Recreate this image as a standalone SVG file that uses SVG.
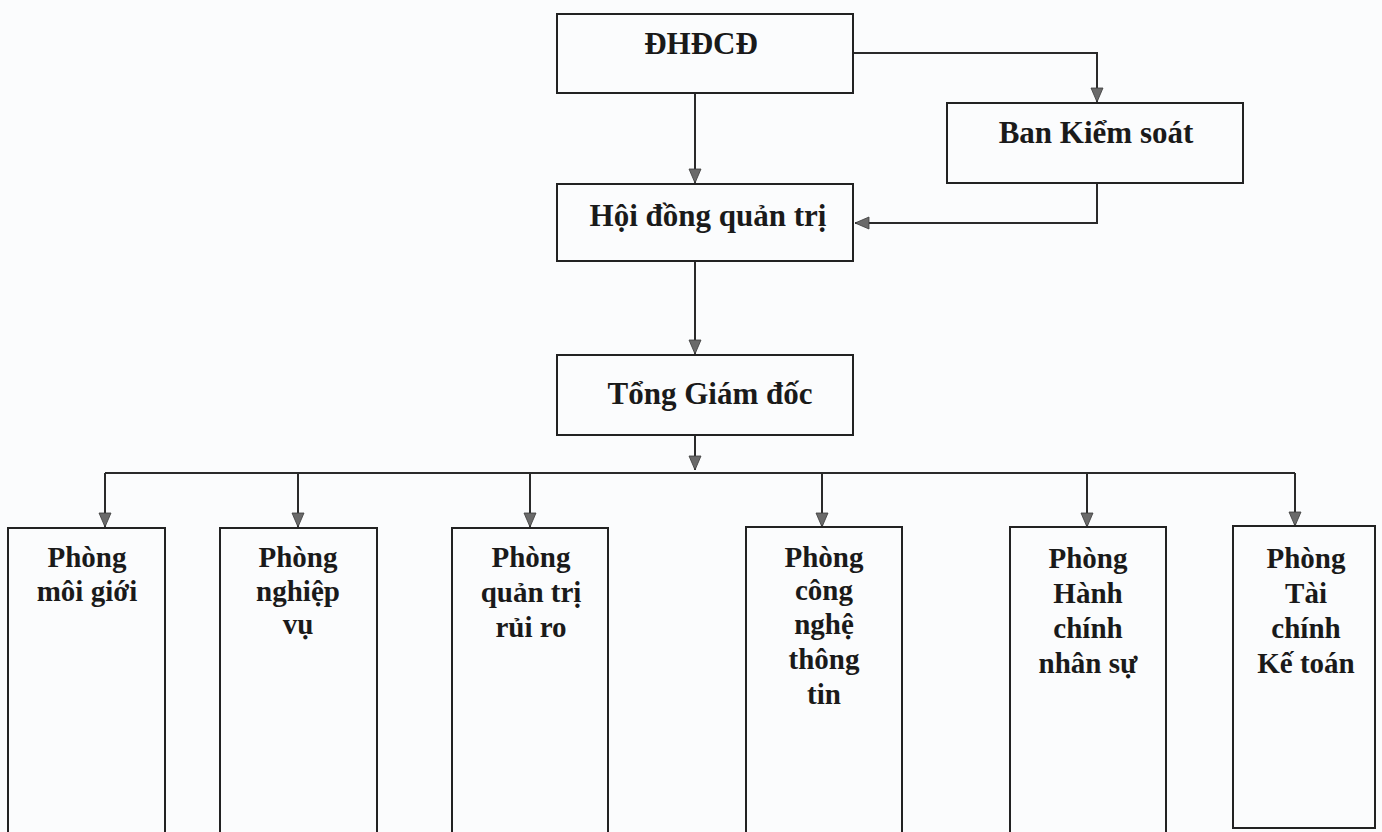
<svg xmlns="http://www.w3.org/2000/svg" width="1382" height="832" viewBox="0 0 1382 832">
<defs>
<style>
.box{fill:none;stroke:#222;stroke-width:2}
.lbl{font-family:"Liberation Serif","Times New Roman",serif;font-weight:bold;fill:#1a1a1a;text-anchor:middle}
.top{font-size:31px}
.sub{font-size:29px}
.ln{fill:none;stroke:#2a2a2a;stroke-width:2}
.ah{fill:#6a6a6a;stroke:#3a3a3a;stroke-width:0.8}
</style>
</defs>
<rect x="0" y="0" width="1382" height="832" fill="#fbfcfd"/>

<g id="connectors">
<path class="ln" d="M695,93 V183"/>
<path class="ln" d="M695,261 V354"/>
<path class="ln" d="M695,435 V470"/>
<path class="ln" d="M853,53 H1097 V102"/>
<path class="ln" d="M1097,183 V223 H855"/>
<path class="ln" d="M105,473 H1295"/>
<path class="ln" d="M105,473 V527"/>
<path class="ln" d="M298,473 V527"/>
<path class="ln" d="M530,473 V527"/>
<path class="ln" d="M822,473 V527"/>
<path class="ln" d="M1087,473 V527"/>
<path class="ln" d="M1295,473 V526"/>
<g class="ah">
<path d="M689,169 L701,169 L695,183 Z"/>
<path d="M689,340 L701,340 L695,354 Z"/>
<path d="M689,456 L701,456 L695,470 Z"/>
<path d="M1091,88 L1103,88 L1097,102 Z"/>
<path d="M869,217 L869,229 L855,223 Z"/>
<path d="M99,513 L111,513 L105,527 Z"/>
<path d="M292,513 L304,513 L298,527 Z"/>
<path d="M524,513 L536,513 L530,527 Z"/>
<path d="M816,513 L828,513 L822,527 Z"/>
<path d="M1081,513 L1093,513 L1087,527 Z"/>
<path d="M1289,512 L1301,512 L1295,526 Z"/>
</g>
</g>

<g id="dhdcd">
<rect class="box" x="557" y="14" width="296" height="79"/>
<text class="lbl top" x="701" y="54">ĐHĐCĐ</text>
</g>
<g id="bks">
<rect class="box" x="947" y="103" width="296" height="80"/>
<text class="lbl top" x="1096" y="143">Ban Kiểm soát</text>
</g>
<g id="hdqt">
<rect class="box" x="557" y="184" width="296" height="77"/>
<text class="lbl top" x="708" y="226">Hội đồng quản trị</text>
</g>
<g id="tgd">
<rect class="box" x="557" y="355" width="296" height="80"/>
<text class="lbl top" x="710" y="404">Tổng Giám đốc</text>
</g>

<g id="p-moigioi">
<rect class="box" x="8" y="528" width="157" height="320"/>
<text class="lbl sub" x="87" y="567">Phòng</text>
<text class="lbl sub" x="87" y="601">môi giới</text>
</g>
<g id="p-nghiepvu">
<rect class="box" x="220" y="528" width="157" height="320"/>
<text class="lbl sub" x="298" y="567">Phòng</text>
<text class="lbl sub" x="298" y="601">nghiệp</text>
<text class="lbl sub" x="298" y="634">vụ</text>
</g>
<g id="p-qtrr">
<rect class="box" x="452" y="528" width="156" height="320"/>
<text class="lbl sub" x="531" y="567">Phòng</text>
<text class="lbl sub" x="531" y="602">quản trị</text>
<text class="lbl sub" x="531" y="637">rủi ro</text>
</g>
<g id="p-cntt">
<rect class="box" x="746" y="527" width="156" height="321"/>
<text class="lbl sub" x="824" y="567">Phòng</text>
<text class="lbl sub" x="824" y="600">công</text>
<text class="lbl sub" x="824" y="634">nghệ</text>
<text class="lbl sub" x="824" y="669">thông</text>
<text class="lbl sub" x="824" y="704">tin</text>
</g>
<g id="p-hcns">
<rect class="box" x="1010" y="527" width="156" height="321"/>
<text class="lbl sub" x="1088" y="568">Phòng</text>
<text class="lbl sub" x="1088" y="603">Hành</text>
<text class="lbl sub" x="1088" y="638">chính</text>
<text class="lbl sub" x="1088" y="673">nhân sự</text>
</g>
<g id="p-tckt">
<rect class="box" x="1233" y="526" width="142" height="302"/>
<text class="lbl sub" x="1306" y="568">Phòng</text>
<text class="lbl sub" x="1306" y="603">Tài</text>
<text class="lbl sub" x="1306" y="638">chính</text>
<text class="lbl sub" x="1306" y="673">Kế toán</text>
</g>
</svg>
